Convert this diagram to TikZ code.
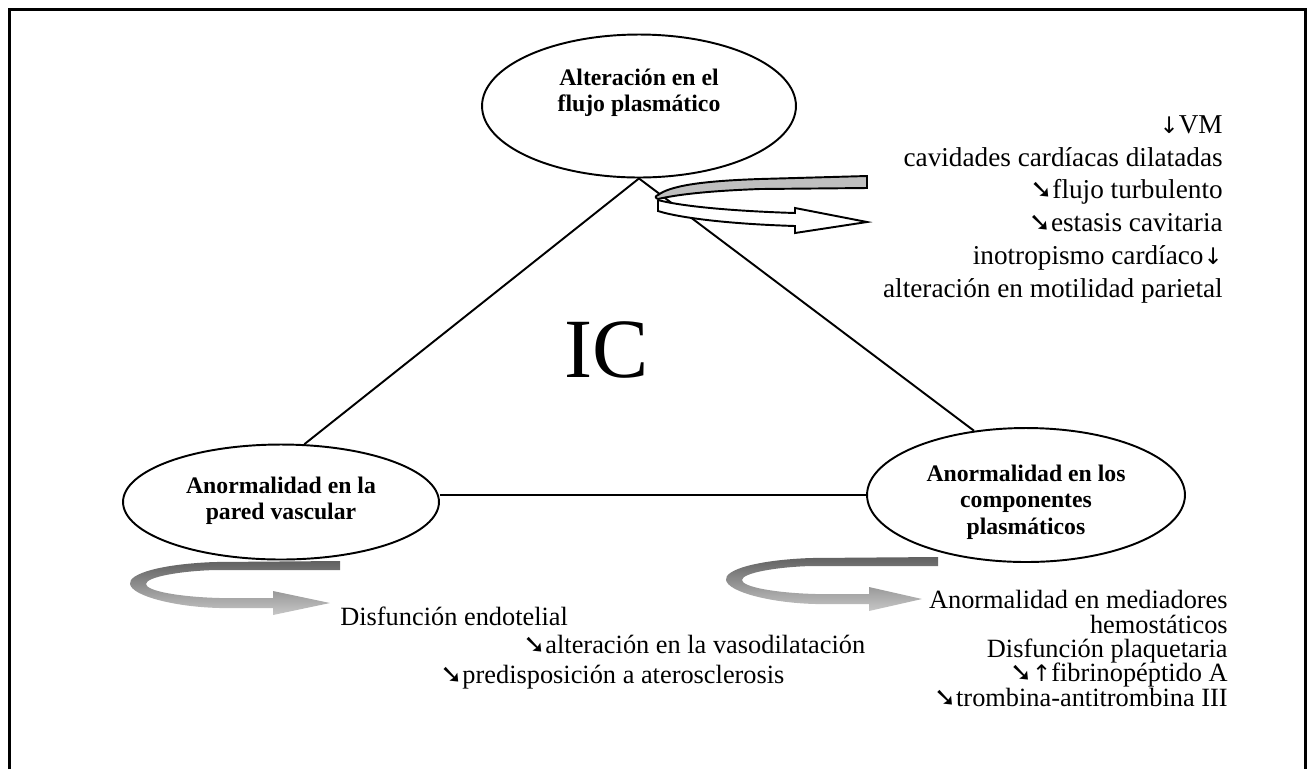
\documentclass[tikz,border=0pt]{standalone}
\usepackage{fontspec}
\setmainfont{Liberation Serif}
\newfontfamily\symfont{DejaVu Sans}
\usetikzlibrary{shapes.geometric}

\newcommand{\flechaabajo}{{\symfont\fontsize{13}{13}\selectfont ↓}}
\newcommand{\flechaarriba}{{\symfont\fontsize{13}{13}\selectfont ↑}}
\newcommand{\flechadiag}{{\symfont\fontsize{15}{15}\selectfont ➘}}

\begin{document}
\begin{tikzpicture}[x=0.02cm, y=-0.02cm,
  elipse/.style={draw, ellipse, line width=1.1pt, inner sep=0pt},
  titulo/.style={font=\bfseries\fontsize{13.5}{15}\selectfont, align=center, inner sep=0pt},
  lista/.style={font=\fontsize{15}{18.7}\selectfont, inner sep=0pt},
  linea/.style={line width=1.1pt},
  lazo/.style={top color=black!62, bottom color=black!22}]
\useasboundingbox (0,0) rectangle (1311,769);
\draw[line width=1.7pt] (9.5,769) -- (9.5,9.5) -- (1305.5,9.5) -- (1305.5,769);

\node[elipse, minimum width=6.28cm, minimum height=2.86cm] (flujo) at (639,106) {};
\node[elipse, minimum width=6.32cm, minimum height=2.3cm] (pared) at (281,502) {};
\node[elipse, minimum width=6.36cm, minimum height=2.68cm] (comp) at (1026,495) {};
\node[titulo] (tflujo) at (639,93) {Alteración en el\\flujo plasmático};
\node[titulo] (tpared) at (281,501) {Anormalidad en la\\pared vascular};
\node[titulo] (tcomp) at (1026,502) {Anormalidad en los\\componentes\\plasmáticos};
\node[font=\fontsize{48}{48}\selectfont] (ic) at (607,350) {IC};

\path[draw,linea] (flujo.south) -- (pared.68);
\path[draw,linea] (flujo.south) -- (comp.129);
\path[draw,linea] (comp.west) -- (comp.west -| pared.east);

% flecha del flujo
\draw[linea, fill=black!25] (867,176) -- (867,188) -- (760,189) .. controls (705,191) and (675,195) .. (658,199) .. controls (655,198) and (655,196) .. (658,195) .. controls (670,186) and (700,181) .. (760,179) -- cycle;
\draw[linea, fill=white] (658,200) -- (658,211) .. controls (680,218) and (730,224) .. (795,226) -- (795,233) -- (867,222) -- (795,208) -- (795,213) .. controls (730,211) and (680,206) .. (658,200);

% lazos grises
\shade[lazo] (340,561) -- (215,562) .. controls (160,564) and (128,574) .. (130,584) .. controls (132,596) and (175,607) .. (220,608) -- (273,608) -- (273,615) -- (330,603) -- (273,591) -- (273,598) -- (220,598) .. controls (180,597) and (146,591) .. (146,584) .. controls (146,577) and (180,571) .. (215,570) -- (340,570) -- cycle;
\shade[lazo, shift={(596,-4)}] (342,561) -- (215,562) .. controls (160,564) and (128,574) .. (130,584) .. controls (132,596) and (175,607) .. (220,608) -- (273,608) -- (273,615) -- (326,603) -- (273,591) -- (273,598) -- (220,598) .. controls (180,597) and (146,591) .. (146,584) .. controls (146,577) and (180,571) .. (215,570) -- (342,570) -- cycle;

\node[lista, anchor=north east, align=right, font=\fontsize{15.5}{18.7}\selectfont] (causas) at (1223,115) {\flechaabajo VM\\cavidades cardíacas dilatadas\\\flechadiag flujo turbulento\\\flechadiag estasis cavitaria\\inotropismo cardíaco\flechaabajo\\alteración en motilidad parietal};
\node[lista, anchor=north east, align=right, font=\fontsize{15}{13.9}\selectfont] (mediadores) at (1228,590) {Anormalidad en mediadores\\hemostáticos\\Disfunción plaquetaria\\\flechadiag\flechaarriba fibrinopéptido A\\\flechadiag trombina-antitrombina III};
\node[lista, anchor=base west] (endo1) at (340,625) {Disfunción endotelial};
\node[lista, anchor=base west] (endo2) at (523,653) {\flechadiag alteración en la vasodilatación};
\node[lista, anchor=base west] (endo3) at (440,683) {\flechadiag predisposición a aterosclerosis};
\end{tikzpicture}
\end{document}
